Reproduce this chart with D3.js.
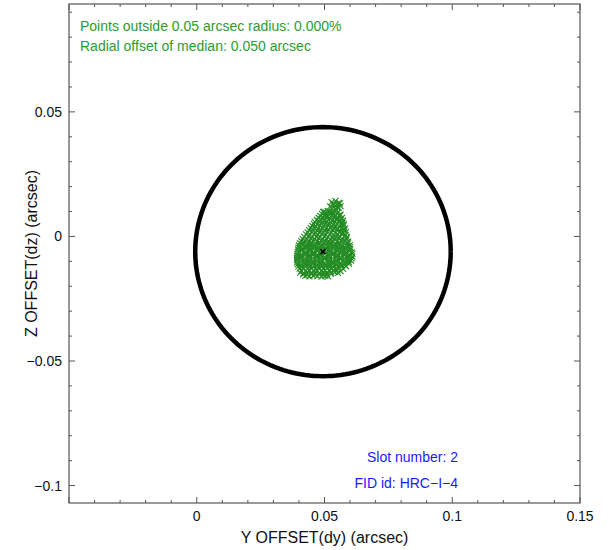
<!DOCTYPE html>
<html>
<head>
<meta charset="utf-8">
<script src="https://cdn.jsdelivr.net/npm/d3@7"></script>
<style>
  body { margin: 0; background: #fff; }
  text { font-family: "Liberation Sans", Arial, Helvetica, sans-serif; }
</style>
</head>
<body>
<div id="chart_container"></div>
<script>

// Global Variables

const W = 613
const H = 550
const marginLeft = 69
const marginRight = 33
const marginTop = 4
const marginBottom = 47
const width = W - marginLeft - marginRight
const height = H - marginTop - marginBottom

const xTicks = [0, 0.05, 0.1, 0.15]
const xTickLabels = ["0", "0.05", "0.1", "0.15"]
const yTicks = [-0.1, -0.05, 0, 0.05]
const yTickLabels = ["\u22120.1", "\u22120.05", "0", "0.05"]

const median = [0.0494, -0.0061]
const radius = 0.05

const statLines = [
  "Points outside 0.05 arcsec radius: 0.000%",
  "Radial offset of median: 0.050 arcsec"
]
const infoLines = ["Slot number: 2", "FID id: HRC\u2212I\u22124"]

// fid centroid offsets [dy, dz] in arcsec
const points = [
  [0.0528, 0.0138], [0.0543, 0.0143], [0.0556, 0.0135],
  [0.0535, 0.0131], [0.0549, 0.0129], [0.0560, 0.0133],
  [0.0522, 0.0121], [0.0536, 0.0126], [0.0550, 0.0118], [0.0563, 0.0122],
  [0.0529, 0.0113], [0.0543, 0.0111], [0.0556, 0.0115],
  [0.0545, 0.0106], [0.0498, 0.0100], [0.0512, 0.0103],
  [0.0495, 0.0098], [0.0506, 0.0096], [0.0520, 0.0099], [0.0532, 0.0097], [0.0553, 0.0099],
  [0.0490, 0.0091], [0.0505, 0.0088], [0.0521, 0.0094], [0.0534, 0.0089], [0.0549, 0.0092], [0.0563, 0.0087],
  [0.0484, 0.0082], [0.0498, 0.0084], [0.0513, 0.0080], [0.0528, 0.0083], [0.0542, 0.0081], [0.0557, 0.0084],
  [0.0477, 0.0075], [0.0493, 0.0072], [0.0508, 0.0078], [0.0522, 0.0073], [0.0538, 0.0076], [0.0553, 0.0071], [0.0568, 0.0074],
  [0.0470, 0.0066], [0.0485, 0.0068], [0.0500, 0.0064], [0.0516, 0.0067], [0.0531, 0.0065], [0.0546, 0.0069], [0.0561, 0.0066], [0.0572, 0.0064],
  [0.0462, 0.0058], [0.0478, 0.0061], [0.0494, 0.0055], [0.0509, 0.0059], [0.0525, 0.0056], [0.0540, 0.0060], [0.0556, 0.0057], [0.0571, 0.0054],
  [0.0458, 0.0050], [0.0472, 0.0048], [0.0488, 0.0052], [0.0503, 0.0049], [0.0519, 0.0051], [0.0534, 0.0047], [0.0549, 0.0050], [0.0565, 0.0052], [0.0576, 0.0048],
  [0.0452, 0.0042], [0.0466, 0.0039], [0.0482, 0.0044], [0.0497, 0.0041], [0.0513, 0.0045], [0.0528, 0.0040], [0.0544, 0.0043], [0.0559, 0.0038], [0.0574, 0.0042],
  [0.0446, 0.0033], [0.0461, 0.0035], [0.0476, 0.0031], [0.0492, 0.0034], [0.0507, 0.0032], [0.0523, 0.0036], [0.0538, 0.0033], [0.0553, 0.0031], [0.0569, 0.0035], [0.0580, 0.0032],
  [0.0440, 0.0025], [0.0455, 0.0028], [0.0470, 0.0023], [0.0486, 0.0026], [0.0501, 0.0022], [0.0517, 0.0027], [0.0532, 0.0024], [0.0548, 0.0029], [0.0563, 0.0021], [0.0578, 0.0025],
  [0.0434, 0.0016], [0.0450, 0.0018], [0.0465, 0.0014], [0.0481, 0.0017], [0.0496, 0.0015], [0.0512, 0.0019], [0.0527, 0.0016], [0.0543, 0.0013], [0.0558, 0.0017], [0.0574, 0.0015], [0.0584, 0.0018],
  [0.0428, 0.0008], [0.0443, 0.0005], [0.0459, 0.0010], [0.0474, 0.0007], [0.0490, 0.0011], [0.0505, 0.0006], [0.0521, 0.0009], [0.0536, 0.0004], [0.0552, 0.0008], [0.0567, 0.0012], [0.0583, 0.0006],
  [0.0421, -0.0002], [0.0437, 0.0001], [0.0452, -0.0004], [0.0468, -0.0001], [0.0483, -0.0003], [0.0499, 0.0000], [0.0514, -0.0002], [0.0530, -0.0005], [0.0545, -0.0001], [0.0561, -0.0003], [0.0577, 0.0000], [0.0588, -0.0002],
  [0.0414, -0.0010], [0.0430, -0.0013], [0.0445, -0.0008], [0.0461, -0.0011], [0.0477, -0.0007], [0.0492, -0.0012], [0.0508, -0.0009], [0.0523, -0.0014], [0.0539, -0.0010], [0.0554, -0.0006], [0.0570, -0.0012], [0.0587, -0.0009],
  [0.0409, -0.0019], [0.0425, -0.0017], [0.0440, -0.0021], [0.0456, -0.0018], [0.0471, -0.0020], [0.0487, -0.0016], [0.0502, -0.0019], [0.0518, -0.0022], [0.0533, -0.0018], [0.0549, -0.0020], [0.0564, -0.0017], [0.0580, -0.0019], [0.0593, -0.0021],
  [0.0404, -0.0027], [0.0419, -0.0024], [0.0435, -0.0029], [0.0450, -0.0026], [0.0466, -0.0030], [0.0481, -0.0025], [0.0497, -0.0028], [0.0512, -0.0023], [0.0528, -0.0027], [0.0543, -0.0031], [0.0559, -0.0026], [0.0574, -0.0024], [0.0592, -0.0028],
  [0.0400, -0.0036], [0.0416, -0.0034], [0.0431, -0.0038], [0.0447, -0.0035], [0.0462, -0.0037], [0.0478, -0.0033], [0.0493, -0.0036], [0.0509, -0.0039], [0.0524, -0.0035], [0.0540, -0.0037], [0.0555, -0.0034], [0.0571, -0.0036], [0.0587, -0.0038], [0.0599, -0.0035],
  [0.0398, -0.0044], [0.0413, -0.0047], [0.0429, -0.0042], [0.0444, -0.0045], [0.0460, -0.0041], [0.0475, -0.0046], [0.0491, -0.0043], [0.0506, -0.0048], [0.0522, -0.0044], [0.0537, -0.0040], [0.0553, -0.0045], [0.0568, -0.0043], [0.0584, -0.0047], [0.0600, -0.0044],
  [0.0396, -0.0052], [0.0412, -0.0054], [0.0427, -0.0050], [0.0443, -0.0053], [0.0458, -0.0051], [0.0474, -0.0055], [0.0489, -0.0052], [0.0505, -0.0050], [0.0520, -0.0054], [0.0536, -0.0052], [0.0551, -0.0055], [0.0567, -0.0051], [0.0583, -0.0053], [0.0601, -0.0052],
  [0.0395, -0.0061], [0.0410, -0.0058], [0.0426, -0.0063], [0.0441, -0.0060], [0.0457, -0.0064], [0.0472, -0.0059], [0.0488, -0.0062], [0.0503, -0.0057], [0.0519, -0.0061], [0.0534, -0.0065], [0.0550, -0.0060], [0.0565, -0.0058], [0.0581, -0.0062], [0.0597, -0.0059], [0.0606, -0.0063],
  [0.0394, -0.0070], [0.0409, -0.0072], [0.0425, -0.0068], [0.0440, -0.0071], [0.0456, -0.0069], [0.0471, -0.0073], [0.0487, -0.0070], [0.0502, -0.0067], [0.0518, -0.0071], [0.0533, -0.0069], [0.0549, -0.0072], [0.0564, -0.0068], [0.0580, -0.0070], [0.0596, -0.0073], [0.0609, -0.0069],
  [0.0393, -0.0078], [0.0408, -0.0081], [0.0424, -0.0076], [0.0439, -0.0079], [0.0455, -0.0075], [0.0470, -0.0080], [0.0486, -0.0077], [0.0501, -0.0082], [0.0517, -0.0078], [0.0532, -0.0074], [0.0548, -0.0079], [0.0563, -0.0081], [0.0579, -0.0076], [0.0595, -0.0079], [0.0609, -0.0080],
  [0.0392, -0.0087], [0.0407, -0.0085], [0.0423, -0.0089], [0.0438, -0.0086], [0.0454, -0.0088], [0.0469, -0.0084], [0.0485, -0.0087], [0.0500, -0.0090], [0.0516, -0.0086], [0.0531, -0.0088], [0.0547, -0.0085], [0.0562, -0.0089], [0.0578, -0.0087], [0.0593, -0.0085], [0.0606, -0.0088],
  [0.0392, -0.0095], [0.0407, -0.0092], [0.0423, -0.0097], [0.0438, -0.0094], [0.0454, -0.0098], [0.0469, -0.0093], [0.0485, -0.0096], [0.0500, -0.0091], [0.0516, -0.0095], [0.0531, -0.0099], [0.0547, -0.0094], [0.0562, -0.0092], [0.0578, -0.0096], [0.0593, -0.0094], [0.0604, -0.0097],
  [0.0393, -0.0104], [0.0408, -0.0102], [0.0424, -0.0106], [0.0439, -0.0103], [0.0455, -0.0105], [0.0470, -0.0101], [0.0486, -0.0104], [0.0501, -0.0107], [0.0517, -0.0103], [0.0532, -0.0105], [0.0548, -0.0102], [0.0563, -0.0106], [0.0579, -0.0104], [0.0595, -0.0102],
  [0.0395, -0.0112], [0.0410, -0.0115], [0.0426, -0.0110], [0.0441, -0.0113], [0.0457, -0.0109], [0.0472, -0.0114], [0.0488, -0.0111], [0.0503, -0.0116], [0.0519, -0.0112], [0.0534, -0.0108], [0.0549, -0.0113], [0.0565, -0.0111], [0.0580, -0.0114], [0.0596, -0.0110],
  [0.0398, -0.0120], [0.0413, -0.0122], [0.0429, -0.0118], [0.0444, -0.0121], [0.0460, -0.0119], [0.0475, -0.0123], [0.0491, -0.0120], [0.0506, -0.0117], [0.0522, -0.0121], [0.0537, -0.0119], [0.0553, -0.0122], [0.0568, -0.0118], [0.0584, -0.0120],
  [0.0403, -0.0129], [0.0418, -0.0126], [0.0434, -0.0131], [0.0449, -0.0128], [0.0465, -0.0132], [0.0480, -0.0127], [0.0496, -0.0130], [0.0511, -0.0125], [0.0527, -0.0129], [0.0542, -0.0131], [0.0558, -0.0127], [0.0573, -0.0130],
  [0.0410, -0.0137], [0.0426, -0.0139], [0.0441, -0.0135], [0.0457, -0.0138], [0.0472, -0.0136], [0.0488, -0.0140], [0.0503, -0.0137], [0.0519, -0.0134], [0.0534, -0.0138], [0.0550, -0.0136], [0.0563, -0.0139],
  [0.0405, -0.0145], [0.0418, -0.0148], [0.0433, -0.0143], [0.0449, -0.0147], [0.0464, -0.0144], [0.0480, -0.0146], [0.0495, -0.0143], [0.0510, -0.0147], [0.0526, -0.0145], [0.0541, -0.0142], [0.0553, -0.0146],
  [0.0416, -0.0152], [0.0432, -0.0154], [0.0448, -0.0150], [0.0463, -0.0153], [0.0479, -0.0151], [0.0494, -0.0155], [0.0510, -0.0152], [0.0525, -0.0150],
  [0.0425, -0.0158], [0.0441, -0.0160], [0.0456, -0.0157], [0.0472, -0.0159], [0.0488, -0.0161], [0.0503, -0.0158], [0.0514, -0.0160]
]

// Scales

const x = d3.scaleLinear().domain([-0.05, 0.15]).range([0, width])
const y = d3.scaleLinear().domain([-0.107, 0.0933]).range([height, 0])

const svg = d3.select("#chart_container").append("svg")
    .attr("width", W)
    .attr("height", H)
  .append("g")
    .attr("transform", `translate(${marginLeft}, ${marginTop})`)

// minor ticks every 0.01, major at labelled values

const xMinor = d3.range(-50, 151, 10).map(d => d / 1000)
const yMinor = d3.range(-100, 91, 10).map(d => d / 1000)
const isMajor = d => Math.abs(Math.round(d * 1000)) % 50 === 0

const tickG = svg.append("g").attr("stroke", "#555").attr("stroke-width", 1)

xMinor.forEach(d => {
  const len = isMajor(d) ? 6 : 3
  tickG.append("line").attr("x1", x(d)).attr("x2", x(d)).attr("y1", height).attr("y2", height - len)
  tickG.append("line").attr("x1", x(d)).attr("x2", x(d)).attr("y1", 0).attr("y2", len)
})
yMinor.forEach(d => {
  const len = isMajor(d) ? 6 : 3
  tickG.append("line").attr("x1", 0).attr("x2", len).attr("y1", y(d)).attr("y2", y(d))
  tickG.append("line").attr("x1", width).attr("x2", width - len).attr("y1", y(d)).attr("y2", y(d))
})

// frame
svg.append("rect")
  .attr("width", width)
  .attr("height", height)
  .attr("fill", "none")
  .attr("stroke", "#555")
  .attr("stroke-width", 1.2)

// tick labels
svg.selectAll(".xlab")
  .data(xTicks)
  .join("text")
  .attr("x", d => x(d))
  .attr("y", height + 18)
  .attr("text-anchor", "middle")
  .attr("fill", "#111")
  .style("font-size", "14px")
  .text((d, i) => xTickLabels[i])

svg.selectAll(".ylab")
  .data(yTicks)
  .join("text")
  .attr("x", -7)
  .attr("y", d => y(d) + 5)
  .attr("text-anchor", "end")
  .attr("fill", "#111")
  .style("font-size", "14px")
  .text((d, i) => yTickLabels[i])

// axis titles
svg.append("text")
  .attr("x", width / 2)
  .attr("y", height + 40)
  .attr("text-anchor", "middle")
  .attr("fill", "#111")
  .style("font-size", "16px")
  .text("Y OFFSET(dy) (arcsec)")

svg.append("text")
  .attr("transform", `translate(${37 - marginLeft}, ${height / 2}) rotate(-90)`)
  .attr("text-anchor", "middle")
  .attr("fill", "#111")
  .style("font-size", "16px")
  .text("Z OFFSET(dz) (arcsec)")

// radius circle around median
const circle = d3.range(0, 361, 2).map(a => [
  median[0] + radius * Math.cos(a * Math.PI / 180),
  median[1] + radius * Math.sin(a * Math.PI / 180)
])
svg.append("path")
  .datum(circle)
  .attr("fill", "none")
  .attr("stroke", "#000")
  .attr("stroke-width", 4.5)
  .attr("d", d3.line().x(d => x(d[0])).y(d => y(d[1])))

// points as x marks
const s = 3
svg.append("g")
  .attr("stroke", "#228B22")
  .attr("stroke-width", 1.1)
  .selectAll("path")
  .data(points)
  .join("path")
  .attr("d", d => {
    const px = x(d[0]), py = y(d[1])
    return `M${px - s},${py - s}L${px + s},${py + s}M${px - s},${py + s}L${px + s},${py - s}`
  })

// median marker
const mx = x(median[0]), my = y(median[1]), ms = 2.5
svg.append("path")
  .attr("stroke", "#000")
  .attr("stroke-width", 1.5)
  .attr("d", `M${mx - ms},${my - ms}L${mx + ms},${my + ms}M${mx - ms},${my + ms}L${mx + ms},${my - ms}`)

// annotations
svg.selectAll(".stat")
  .data(statLines)
  .join("text")
  .attr("x", 11)
  .attr("y", (d, i) => 27 + i * 20)
  .style("font-size", "14px")
  .attr("fill", "#2e9b2e")
  .text(d => d)

svg.selectAll(".info")
  .data(infoLines)
  .join("text")
  .attr("x", 389)
  .attr("y", (d, i) => 458 + i * 26)
  .attr("text-anchor", "end")
  .style("font-size", "14px")
  .attr("fill", "#1a1aff")
  .text(d => d)

</script>
</body>
</html>
